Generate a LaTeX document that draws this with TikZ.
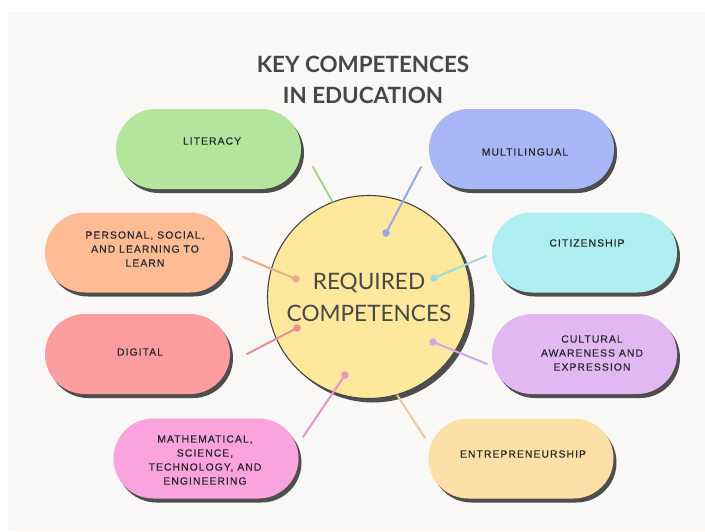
\documentclass[tikz,border=0pt]{standalone}
\usepackage{fontspec}
\usetikzlibrary{shapes.misc,shadows}

\setmainfont{Liberation Sans}
\newfontfamily\headfont{Lato}
\newfontfamily\capfont[LetterSpace=10,FakeBold=0.35]{Liberation Sans}

\definecolor{paper}{HTML}{F9F8F6}
\definecolor{ink}{HTML}{474747}
\definecolor{shade}{HTML}{4E4E4E}
\definecolor{capink}{HTML}{26262C}
\definecolor{corefill}{HTML}{FDE89B}
\definecolor{litgreen}{HTML}{B4E59D}
\definecolor{multiblue}{HTML}{A9B6F8}
\definecolor{perspeach}{HTML}{FDBC93}
\definecolor{digired}{HTML}{FC9D9F}
\definecolor{citicyan}{HTML}{AEEEF0}
\definecolor{cultlilac}{HTML}{E2B8F3}
\definecolor{mathpink}{HTML}{FBA3DC}
\definecolor{entreorange}{HTML}{FDDFA8}

\tikzset{
  pill/.style={rounded rectangle, minimum width=185pt, minimum height=80pt,
    inner sep=0pt, fill=#1,
    drop shadow={shadow xshift=3pt, shadow yshift=-4pt, fill=shade, opacity=1}},
  caption/.style={align=center, text=capink, inner sep=0pt,
    font=\capfont\fontsize{10.4}{14}\selectfont},
  link/.style={line width=2pt, line cap=round, draw=#1!92!black},
  dot/.style={circle, inner sep=0pt, minimum size=7.5pt, fill=#1!92!black}
}

\begin{document}
\begin{tikzpicture}[x=1pt, y=-1pt]
% canvas
\useasboundingbox (0,0) rectangle (705,531);
\fill[white] (0,0) rectangle (705,531);
\fill[paper] (8,12) rectangle (705,531);

\node[align=center, text=ink, font=\headfont\bfseries\fontsize{22.4}{31}\selectfont]
  (title) at (363,79.5) {KEY COMPETENCES\\IN EDUCATION};

% the eight competences
\node[pill=litgreen] (literacy) at (208.5,149) {};
\node[pill=multiblue] (multi) at (521.5,149) {};
\node[pill=perspeach] (personal) at (137.5,252.5) {};
\node[pill=digired] (digital) at (137.5,354) {};
\node[pill=citicyan] (citizen) at (584.5,252.5) {};
\node[pill=cultlilac] (culture) at (584.5,354) {};
\node[pill=mathpink] (math) at (206,458.5) {};
\node[pill=entreorange] (entre) at (521,458.5) {};

\node[caption] (literacy-t) at (212,141) {LITERACY};
\node[caption] (multi-t) at (525,152) {MULTILINGUAL};
\node[caption] (personal-t) at (145,249) {PERSONAL, SOCIAL,\\AND LEARNING TO\\LEARN};
\node[caption] (digital-t) at (140,352) {DIGITAL};
\node[caption] (citizen-t) at (587,243) {CITIZENSHIP};
\node[caption] (culture-t) at (592,353) {CULTURAL\\AWARENESS AND\\EXPRESSION};
\node[caption] (math-t) at (205,460) {MATHEMATICAL,\\SCIENCE,\\TECHNOLOGY, AND\\ENGINEERING};
\node[caption] (entre-t) at (523,454) {ENTREPRENEURSHIP};

% centre
\node[circle, minimum size=203pt, inner sep=0pt, fill=corefill, draw=ink,
  line width=1.1pt, align=center, text=ink,
  font=\headfont\fontsize{22.6}{32}\selectfont,
  drop shadow={shadow xshift=4pt, shadow yshift=-4pt, fill=shade, opacity=1}]
  (core) at (369,297) {REQUIRED\\COMPETENCES};

% connectors
\coordinate (literacy-e) at (313,167);
\coordinate (multi-e) at (421,167);
\coordinate (personal-e) at (243,257);
\coordinate (digital-e) at (247,354);
\coordinate (citizen-e) at (486,256);
\coordinate (culture-e) at (487,364);
\coordinate (math-e) at (303,437);
\coordinate (entre-e) at (425,438);

\node[dot=multiblue] (multi-d) at (386,233) {};
\node[dot=perspeach] (personal-d) at (296,279) {};
\node[dot=digired] (digital-d) at (297,328) {};
\node[dot=citicyan] (citizen-d) at (434,278) {};
\node[dot=cultlilac] (culture-d) at (433,342) {};
\node[dot=mathpink] (math-d) at (345,375) {};

\draw[link=litgreen] (literacy-e) -- (core.111);
\draw[link=multiblue] (multi-e) -- (multi-d.center);
\draw[link=perspeach] (personal-e) -- (personal-d.center);
\draw[link=digired] (digital-e) -- (digital-d.center);
\draw[link=citicyan] (citizen-e) -- (citizen-d.center);
\draw[link=cultlilac] (culture-e) -- (culture-d.center);
\draw[link=mathpink] (math-e) -- (math-d.center);
\draw[link=entreorange] (entre-e) -- (core.-74);
\end{tikzpicture}
\end{document}
